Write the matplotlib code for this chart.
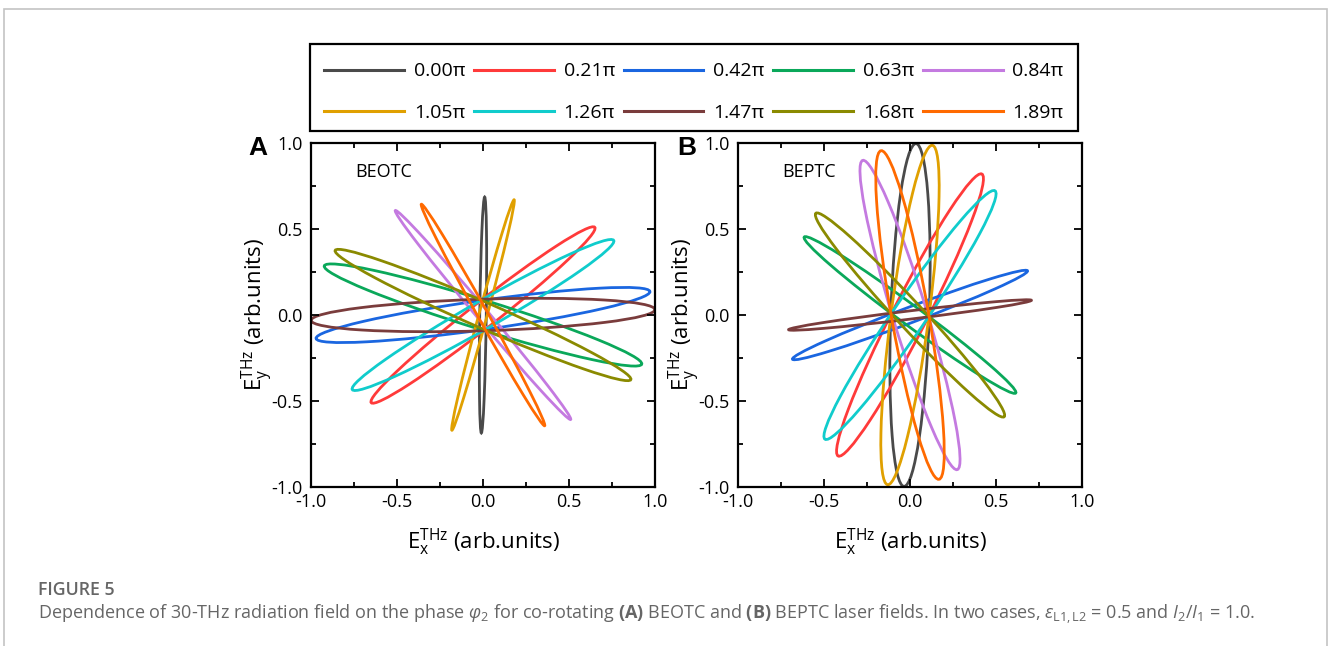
import matplotlib.pyplot as plt
from matplotlib.patches import Ellipse, Rectangle
from matplotlib.lines import Line2D

plt.rcParams['font.family'] = ['Open Sans', 'DejaVu Sans']
plt.rcParams['mathtext.fontset'] = 'custom'
plt.rcParams['mathtext.rm'] = 'Open Sans'
plt.rcParams['mathtext.it'] = 'Open Sans:italic'
plt.rcParams['mathtext.bf'] = 'Open Sans:bold'

phases = ["0.00π", "0.21π", "0.42π", "0.63π", "0.84π",
          "1.05π", "1.26π", "1.47π", "1.68π", "1.89π"]
colors = ["#4a4a4a", "#ff3a3a", "#1a66e0", "#0aa85a", "#c47ae0",
          "#e0a000", "#10cccc", "#7a3c3c", "#8a8a00", "#ff6a00"]

# polarisation ellipses: semi-major, semi-minor, tilt (deg)
beotc_major = [0.686, 0.826, 0.98, 0.966, 0.793, 0.694, 0.875, 1.0, 0.938, 0.737]
beotc_minor = [0.019, 0.074, 0.085, 0.085, 0.034, 0.024, 0.08, 0.092, 0.075, 0.03]
beotc_angle = [89.2, 38.1, 8.0, -17.2, -50.0, 74.9, 29.7, 1.8, -23.6, -60.9]

beptc_major = [0.997, 0.92, 0.73, 0.764, 0.94, 0.995, 0.875, 0.711, 0.806, 0.97]
beptc_minor = [0.112, 0.10, 0.045, 0.058, 0.10, 0.11, 0.095, 0.024, 0.076, 0.108]
beptc_angle = [88.0, 63.0, 20.6, -36.4, -73.0, 82.5, 55.6, 6.9, -47.2, -80.0]

W, H = 1328, 646
fig = plt.figure(figsize=(W / 100, H / 100), dpi=100)

# thin grey frame around the figure panel
fig.patches.append(Rectangle((4 / W, -0.2), 1323 / W, 1.2 - 9 / H, transform=fig.transFigure,
                             fill=False, edgecolor="#c4c4c4", linewidth=1.2))
# black box around the legend
fig.patches.append(Rectangle((310 / W, (H - 131) / H), 768 / W, 87 / H, transform=fig.transFigure,
                             fill=False, edgecolor="black", linewidth=1.6))


def panel(left, major, minor, angle, name, letter, letter_x):
    ax = fig.add_axes([left / W, (H - 487) / H, 344 / W, 344 / H])
    for i in range(len(phases)):
        ax.add_patch(Ellipse((0, 0), 2 * major[i], 2 * minor[i], angle=angle[i],
                             fill=False, edgecolor=colors[i], linewidth=2.0))
    ax.set_xlim(-1, 1)
    ax.set_ylim(-1, 1)
    ax.set_xticks([-1, -0.5, 0, 0.5, 1])
    ax.set_yticks([-1, -0.5, 0, 0.5, 1])
    ax.set_xticklabels(["-1.0", "-0.5", "0.0", "0.5", "1.0"])
    ax.set_yticklabels(["-1.0", "-0.5", "0.0", "0.5", "1.0"])
    ax.set_xticks([-0.75, -0.25, 0.25, 0.75], minor=True)
    ax.set_yticks([-0.75, -0.25, 0.25, 0.75], minor=True)
    ax.tick_params(which="both", direction="in", top=True, right=True, width=1.3, labelsize=13)
    ax.tick_params(which="major", length=6)
    ax.tick_params(which="minor", length=3.5)
    ax.tick_params(axis="y", pad=6)
    ax.tick_params(axis="x", pad=4)
    for s in ax.spines.values():
        s.set_linewidth(1.6)
    ax.set_xlabel(r"$\mathregular{E_x^{THz}}$ (arb.units)", fontsize=16)
    ax.set_ylabel(r"$\mathregular{E_y^{THz}}$ (arb.units)", fontsize=16)
    ax.xaxis.set_label_coords(0.5, -0.115)
    ax.yaxis.set_label_coords(-0.106, 0.5)
    ax.text(-0.74, 0.83, name, fontsize=13, va="center")
    fig.text(letter_x / W, (H - 148) / H, letter, fontsize=19, fontweight="bold",
             family="Liberation Sans", ha="center", va="center")
    return ax


panel(311, beotc_major, beotc_minor, beotc_angle, "BEOTC", "A", 258)
panel(738, beptc_major, beptc_minor, beptc_angle, "BEPTC", "B", 687)

# legend is filled column by column, so interleave the two rows
order = [0, 5, 1, 6, 2, 7, 3, 8, 4, 9]
handles = [Line2D([], [], color=colors[i], linewidth=2.2) for i in order]
labels = [phases[i] for i in order]
fig.legend(handles, labels, ncol=5, loc="center",
           bbox_to_anchor=(694 / W, (H - 92) / H),
           fontsize=14, handlelength=4.1, handletextpad=0.5, columnspacing=0.45,
           labelspacing=1.2, borderpad=0.3, frameon=False)

fig.text(38 / W, (H - 590) / H, "FIGURE 5", fontsize=12.8, color="#666666",
         fontweight="semibold", va="center")
fig.text(38 / W, (H - 614) / H,
         r"Dependence of 30-THz radiation field on the phase $\varphi_2$ for co-rotating "
         r"$\mathbf{(A)}$ BEOTC and $\mathbf{(B)}$ BEPTC laser fields. In two cases, "
         r"$\varepsilon_{\mathrm{L1,L2}}$ = 0.5 and $I_2/I_1$ = 1.0.",
         fontsize=13, color="#666666", va="center")

fig.savefig("out.png", dpi=100)
